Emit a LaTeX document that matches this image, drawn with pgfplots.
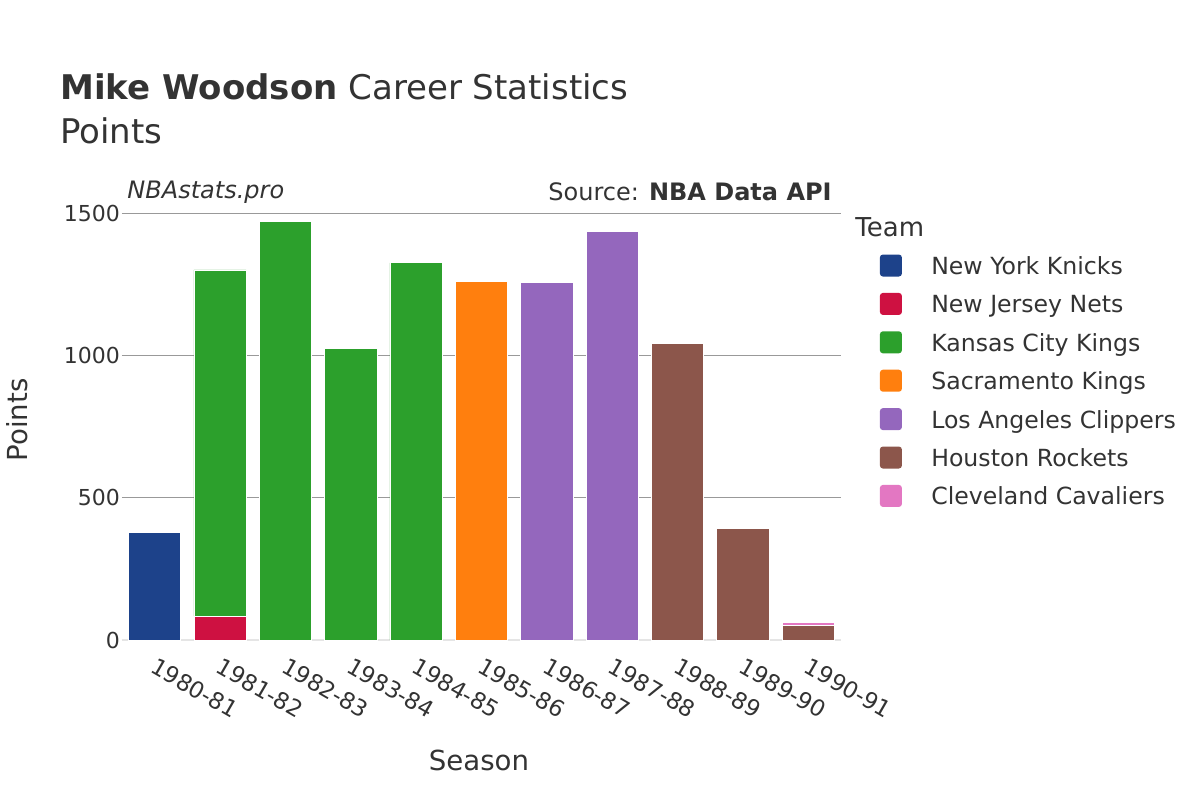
\documentclass[border=0pt]{standalone}
\usepackage{pgfplots}
\pgfplotsset{compat=1.18}
\usepackage{pgfplotstable}
\usepackage{fontspec}
\setmainfont{DejaVu Sans}
\definecolor{txt}{HTML}{333333}
\definecolor{cNYK}{HTML}{1D428A}
\definecolor{cNJN}{HTML}{CE1141}
\definecolor{cKCK}{HTML}{2CA02C}
\definecolor{cSAC}{HTML}{FF7F0E}
\definecolor{cLAC}{HTML}{9467BD}
\definecolor{cHOU}{HTML}{8C564B}
\definecolor{cCLE}{HTML}{E377C2}
\pgfplotstableread{
x NYK NJN KCK SAC LAC HOU CLE
0 378 0 0 0 0 0 0
1 0 84 1218 0 0 0 0
2 0 0 1471 0 0 0 0
3 0 0 1025 0 0 0 0
4 0 0 1327 0 0 0 0
5 0 0 0 1262 0 0 0
6 0 0 0 0 1259 0 0
7 0 0 0 0 1436 0 0
8 0 0 0 0 0 1043 0
9 0 0 0 0 0 392 0
10 0 0 0 0 0 52 11
}\data
\begin{document}
\begin{tikzpicture}
\path (0,0) rectangle (600pt,400pt);
\begin{axis}[
  at={(61pt,80pt)}, anchor=south west, scale only axis,
  width=359.5pt, height=220pt,
  ybar stacked, bar width=0.8,
  xmin=-0.5, xmax=10.5, ymin=0, ymax=1548,
  xtick={0,...,10},
  xticklabels={1980-81,1981-82,1982-83,1983-84,1984-85,1985-86,1986-87,1987-88,1988-89,1989-90,1990-91},
  ytick={0,500,1000,1500},
  axis line style={draw=none},
  major tick length=0pt,
  ymajorgrids,
  grid style={color=black!40, line width=0.6pt},
  /pgf/number format/assume math mode=true,
  /pgf/number format/1000 sep={},
  yticklabel style={font=\fontsize{11}{13}\selectfont, color=txt, xshift=2.5pt},
  xticklabel style={font=\fontsize{11.4}{13}\selectfont, color=txt, rotate=-30, anchor=north west, xshift=2pt, yshift=-3pt},
  legend style={at={(1.053,0.877)}, anchor=north west, draw=none, fill=none, inner sep=0pt,
    font=\fontsize{11.8}{13}\selectfont, text=txt, row sep=8.2pt,
    nodes={inner xsep=0pt, inner ysep=0pt, text depth=0pt}},
  legend cell align=left,
  legend image code/.code={\fill[#1,/tikz/.cd,draw=none,rounded corners=1.5pt] (0pt,-5.5pt) rectangle (11pt,5.5pt); \path (0pt,0pt) (25.5pt,0pt);},
  clip=false,
]
\addplot[fill=cNYK, draw=white, line width=0.4pt] table[x=x,y=NYK]{\data};
\addplot[fill=cNJN, draw=white, line width=0.4pt] table[x=x,y=NJN]{\data};
\addplot[fill=cKCK, draw=white, line width=0.4pt] table[x=x,y=KCK]{\data};
\addplot[fill=cSAC, draw=white, line width=0.4pt] table[x=x,y=SAC]{\data};
\addplot[fill=cLAC, draw=white, line width=0.4pt] table[x=x,y=LAC]{\data};
\addplot[fill=cHOU, draw=white, line width=0.4pt] table[x=x,y=HOU]{\data};
\addplot[fill=cCLE, draw=white, line width=0.4pt] table[x=x,y=CLE]{\data};
\legend{New York Knicks,New Jersey Nets,Kansas City Kings,Sacramento Kings,Los Angeles Clippers,Houston Rockets,Cleveland Cavaliers}
\draw[black!10, line width=1.2pt] (axis cs:-0.5,0) -- (axis cs:10.5,0);
\node[anchor=base west, text=txt, font=\fontsize{17}{20}\selectfont, inner sep=0pt] at (rel axis cs:-0.0862,1.2273) {\textbf{Mike Woodson} Career Statistics};
\node[anchor=base west, text=txt, font=\fontsize{17}{20}\selectfont, inner sep=0pt] at (rel axis cs:-0.0862,1.1273) {Points};
\node[anchor=west, text=txt, font=\fontsize{12}{14}\selectfont\itshape, inner sep=0pt] at (rel axis cs:0.007,1.018) {NBAstats.pro};
\node[anchor=east, text=txt, font=\fontsize{12}{14}\selectfont, inner sep=0pt] at (rel axis cs:0.9875,1.018) {Source: \textbf{NBA Data API}};
\node[anchor=west, text=txt, font=\fontsize{13}{15}\selectfont, inner sep=0pt] at (rel axis cs:1.0195,0.9386) {Team};
\node[rotate=90, text=txt, font=\fontsize{13.8}{16}\selectfont, inner sep=0pt] at (rel axis cs:-0.146,0.5) {Points};
\node[text=txt, font=\fontsize{13.8}{16}\selectfont, inner sep=0pt] at (rel axis cs:0.4965,-0.2727) {Season};
\end{axis}
\end{tikzpicture}
\end{document}
